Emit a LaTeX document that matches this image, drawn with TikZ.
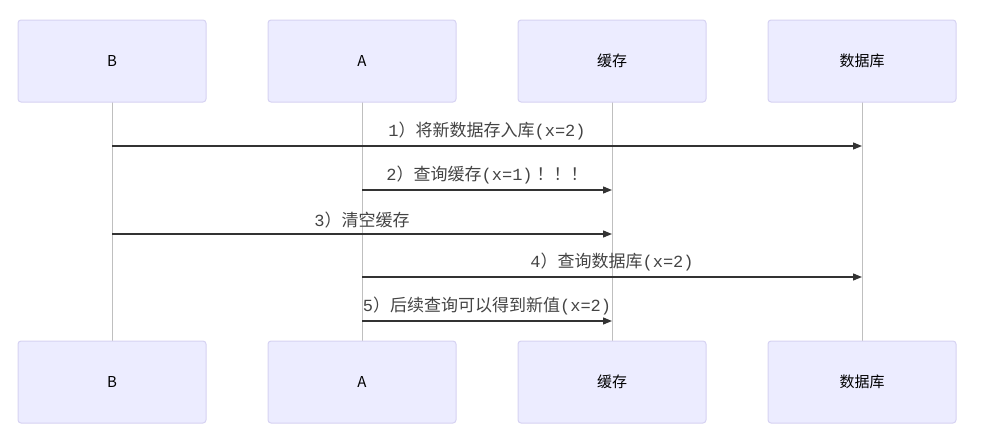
\documentclass[tikz,border=0pt]{standalone}
\usepackage{fontspec}
\setmainfont{Liberation Sans}
\newfontfamily\cjk{Noto Sans CJK SC}
\newfontfamily\mono{Liberation Mono}
\newcommand{\mm}[1]{{\mono #1}}
\usetikzlibrary{arrows.meta}
\definecolor{boxfill}{HTML}{ECECFF}
\definecolor{boxline}{HTML}{D6D2F2}
\definecolor{txt}{HTML}{444444}
\tikzset{
 actor/.style={draw=boxline,fill=boxfill,line width=1pt,rounded corners=3pt,minimum width=188pt,minimum height=82pt,font=\fontsize{15}{17}\selectfont\cjk,text=black},
 life/.style={draw=gray!50,line width=0.8pt},
 msg/.style={draw=black!80,line width=1.3pt,-{Triangle[length=9pt,width=7pt]}},
 lbl/.style={font=\fontsize{17}{19}\selectfont\cjk,text=txt,above=2pt}
}
\begin{document}
\begin{tikzpicture}[x=1pt,y=-1pt]
\useasboundingbox (0,0) rectangle (987,439);
\foreach \n/\x/\t in {b/112/B,a/362/A,c/612/缓存,d/862/数据库}{
  \coordinate (\n) at (\x,0);
  \draw[life] (\x,102) -- (\x,341);
  \node[actor] (\n top) at (\x,61) {\t};
  \node[actor] (\n bot) at (\x,382) {\t};
}
\foreach \f/\t/\y/\l in {b/d/146/{\mm{1}）将新数据存入库\mm{(x=2)}},a/c/190/{\mm{2}）查询缓存\mm{(x=1)} ！！！},b/c/234/{\mm{3}）清空缓存},a/d/277/{\mm{4}）查询数据库\mm{(x=2)}},a/c/321/{\mm{5}）后续查询可以得到新值\mm{(x=2)}}}{
  \coordinate (s) at ([yshift=-\y pt]\f);
  \coordinate (e) at ([yshift=-\y pt]\t);
  \draw[msg] (s) -- (e) node[midway,lbl] {\l};
}
\end{tikzpicture}
\end{document}
